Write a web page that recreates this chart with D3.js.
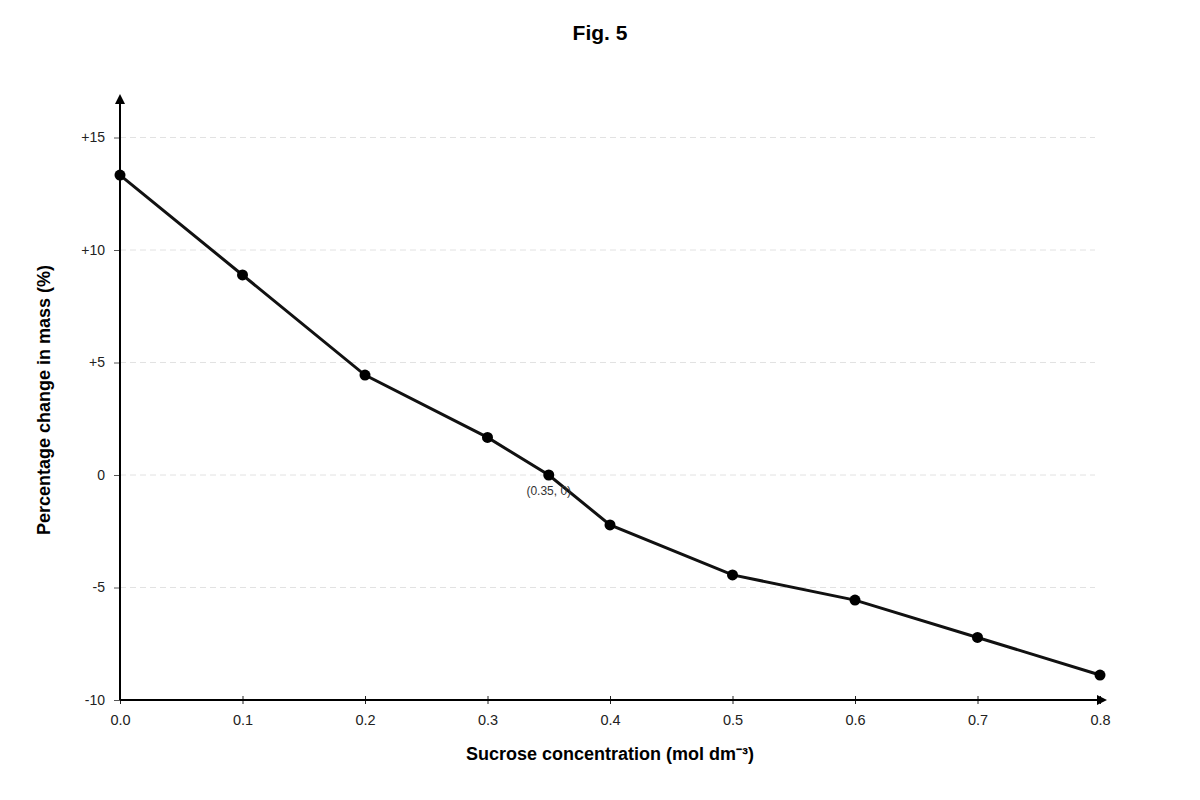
<!DOCTYPE html>
<html>
<head>
<meta charset="utf-8">
<script src="https://cdn.jsdelivr.net/npm/d3@7"></script>
<style>
  body { margin: 0; background: #fff; }
  svg { font-family: "Liberation Sans", Arial, sans-serif; }
</style>
</head>
<body>
<svg id="chart" width="1200" height="800"></svg>
<script>
// data
const concentrations = [0.0, 0.1, 0.2, 0.3, 0.35, 0.4, 0.5, 0.6, 0.7, 0.8];
const massChange = [13.33, 8.89, 4.44, 1.67, 0, -2.22, -4.44, -5.56, -7.22, -8.89];
const xTicks = [0, 0.1, 0.2, 0.3, 0.4, 0.5, 0.6, 0.7, 0.8];
const yTicks = [-10, -5, 0, 5, 10, 15];
const annotation = { x: 0.35, y: 0, text: '(0.35, 0)' };

const MARGIN = { top: 96, right: 100, bottom: 100, left: 120 };
const W = 1200, H = 800;

const svg = d3.select('#chart');

const x = d3.scaleLinear().domain([0, 0.8]).range([120, 1100]);
const y = d3.scaleLinear().domain([-10, 15]).range([700, 137.5]);

svg.append('defs').append('marker')
  .attr('id', 'arrow')
  .attr('viewBox', '0 0 10 10')
  .attr('refX', 8).attr('refY', 5)
  .attr('markerWidth', 5).attr('markerHeight', 5)
  .attr('orient', 'auto')
  .append('path').attr('d', 'M0,0L10,5L0,10Z').attr('fill', '#000');

// grid
svg.append('g')
  .selectAll('line')
  .data(yTicks.filter(d => d > -10))
  .enter().append('line')
  .attr('x1', x(0)).attr('x2', 1095)
  .attr('y1', d => y(d)).attr('y2', d => y(d))
  .attr('stroke', '#e2e2e2')
  .attr('stroke-dasharray', '6,4');

// y axis
const yAxis = svg.append('g')
  .attr('transform', 'translate(' + x(0) + ',0)')
  .call(d3.axisLeft(y).tickValues(yTicks).tickSize(6)
    .tickFormat(d => d > 0 ? '+' + d : d));
yAxis.select('.domain').remove();
yAxis.selectAll('.tick line').attr('stroke', '#555');
yAxis.selectAll('.tick text').attr('font-size', 14).attr('fill', '#222')
  .attr('x', -15);

// x axis
const xAxis = svg.append('g')
  .attr('transform', 'translate(0,' + y(-10) + ')')
  .call(d3.axisBottom(x).tickValues(xTicks).tickSizeInner(5).tickSizeOuter(0)
    .tickFormat(d3.format('.1f')));
xAxis.select('.domain').remove();
xAxis.selectAll('.tick line').attr('y1', -4).attr('y2', 4).attr('stroke', '#222');
xAxis.selectAll('.tick text').attr('font-size', 14.5).attr('fill', '#222').attr('y', 15);

// axis lines with arrows
svg.append('line')
  .attr('x1', x(0)).attr('y1', y(-10))
  .attr('x2', x(0)).attr('y2', MARGIN.top)
  .attr('stroke', '#000').attr('stroke-width', 2)
  .attr('marker-end', 'url(#arrow)');
svg.append('line')
  .attr('x1', x(0)).attr('y1', y(-10))
  .attr('x2', 1105).attr('y2', y(-10))
  .attr('stroke', '#000').attr('stroke-width', 2)
  .attr('marker-end', 'url(#arrow)');

// line + points
const pts = concentrations.map((c, i) => ({ c, v: massChange[i] }));
svg.append('path')
  .datum(pts)
  .attr('fill', 'none')
  .attr('stroke', '#111')
  .attr('stroke-width', 3)
  .attr('d', d3.line().x(d => x(d.c)).y(d => y(d.v)));

svg.append('g')
  .selectAll('circle')
  .data(pts)
  .enter().append('circle')
  .attr('cx', d => x(d.c))
  .attr('cy', d => y(d.v))
  .attr('r', 5.5)
  .attr('fill', '#000');

svg.append('text')
  .attr('x', x(annotation.x))
  .attr('y', y(annotation.y) + 20)
  .attr('text-anchor', 'middle')
  .attr('font-size', 12)
  .attr('fill', '#333')
  .text(annotation.text);

// titles
svg.append('text')
  .attr('x', W / 2).attr('y', 40)
  .attr('text-anchor', 'middle')
  .attr('font-size', 21).attr('font-weight', 'bold')
  .text('Fig. 5');

svg.append('text')
  .attr('x', 610).attr('y', 760)
  .attr('text-anchor', 'middle')
  .attr('font-size', 18).attr('font-weight', 'bold')
  .text('Sucrose concentration (mol dm\u207B\u00B3)');

svg.append('text')
  .attr('transform', 'translate(50,400) rotate(-90)')
  .attr('text-anchor', 'middle')
  .attr('font-size', 18).attr('font-weight', 'bold')
  .text('Percentage change in mass (%)');
</script>
</body>
</html>
